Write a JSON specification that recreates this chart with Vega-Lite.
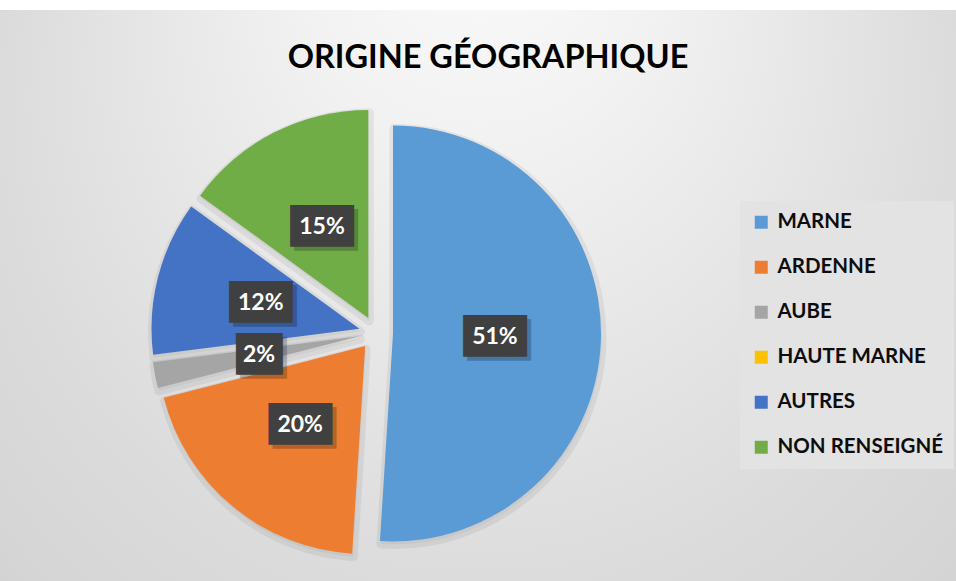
{
  "$schema": "https://vega.github.io/schema/vega-lite/v6.json",
  "width": 1160,
  "height": 646,
  "autosize": {"type": "none"},
  "padding": {"left": -204, "top": 10, "right": 0, "bottom": -75},
  "background": "white",
  "title": {
    "text": "ORIGINE GÉOGRAPHIQUE",
    "font": "Lato",
    "fontSize": 32.5,
    "fontWeight": "bold",
    "color": "#000000",
    "anchor": "middle",
    "frame": "group",
    "dx": 112,
    "offset": -64
  },
  "config": {
    "view": {"stroke": "#c4c4c4", "strokeWidth": 1}
  },
  "data": {
    "values": [
      {"origine": "MARNE", "part": 0.51},
      {"origine": "ARDENNE", "part": 0.20},
      {"origine": "AUBE", "part": 0.02},
      {"origine": "HAUTE MARNE", "part": 0},
      {"origine": "AUTRES", "part": 0.12},
      {"origine": "NON RENSEIGNÉ", "part": 0.15}
    ]
  },
  "transform": [{"stack": "part", "groupby": [], "as": ["debut", "fin"]}],
  "layer": [
    {
      "data": {"values": [{"fond": "arrière-plan"}]},
      "mark": {
        "type": "rect",
        "fill": {
          "gradient": "radial",
          "x1": 0.59, "y1": 0.108, "r1": 0,
          "x2": 0.59, "y2": 0.4, "r2": 0.6,
          "stops": [
            {"offset": 0, "color": "#fcfcfc"},
            {"offset": 0.25, "color": "#f2f2f2"},
            {"offset": 0.54, "color": "#e3e3e3"},
            {"offset": 0.7, "color": "#dbdbdb"},
            {"offset": 0.87, "color": "#d5d5d5"},
            {"offset": 0.93, "color": "#d0d0d0"},
            {"offset": 1, "color": "#c4c4c4"}
          ]
        }
      },
      "encoding": {}
    },
    {
      "transform": [{"filter": "datum.origine === 'MARNE'"}],
      "mark": {"type": "arc", "radius": 208, "xOffset": 18, "yOffset": 3.5, "fill": "#000000", "fillOpacity": 0.04, "stroke": "#000000", "strokeOpacity": 0.06, "strokeWidth": 9, "strokeJoin": "round"},
      "encoding": {
        "theta": {"field": "debut", "type": "quantitative", "scale": {"domain": [0, 1], "range": [0, 6.283185]}},
        "theta2": {"field": "fin"}
      }
    },
    {
      "transform": [{"filter": "datum.origine === 'ARDENNE'"}],
      "mark": {"type": "arc", "radius": 208, "xOffset": -9.8, "yOffset": 16.1, "fill": "#000000", "fillOpacity": 0.04, "stroke": "#000000", "strokeOpacity": 0.06, "strokeWidth": 9, "strokeJoin": "round"},
      "encoding": {
        "theta": {"field": "debut", "type": "quantitative", "scale": {"domain": [0, 1], "range": [0, 6.283185]}},
        "theta2": {"field": "fin"}
      }
    },
    {
      "transform": [{"filter": "datum.origine === 'AUBE'"}],
      "mark": {"type": "arc", "radius": 208, "xOffset": -15.7, "yOffset": 6.2, "fill": "#000000", "fillOpacity": 0.04, "stroke": "#000000", "strokeOpacity": 0.06, "strokeWidth": 9, "strokeJoin": "round"},
      "encoding": {
        "theta": {"field": "debut", "type": "quantitative", "scale": {"domain": [0, 1], "range": [0, 6.283185]}},
        "theta2": {"field": "fin"}
      }
    },
    {
      "transform": [{"filter": "datum.origine === 'AUTRES'"}],
      "mark": {"type": "arc", "radius": 208, "xOffset": -15.5, "yOffset": -1.2, "fill": "#000000", "fillOpacity": 0.04, "stroke": "#000000", "strokeOpacity": 0.06, "strokeWidth": 9, "strokeJoin": "round"},
      "encoding": {
        "theta": {"field": "debut", "type": "quantitative", "scale": {"domain": [0, 1], "range": [0, 6.283185]}},
        "theta2": {"field": "fin"}
      }
    },
    {
      "transform": [{"filter": "datum.origine === 'NON RENSEIGNÉ'"}],
      "mark": {"type": "arc", "radius": 208, "xOffset": -6.7, "yOffset": -12.1, "fill": "#000000", "fillOpacity": 0.04, "stroke": "#000000", "strokeOpacity": 0.06, "strokeWidth": 9, "strokeJoin": "round"},
      "encoding": {
        "theta": {"field": "debut", "type": "quantitative", "scale": {"domain": [0, 1], "range": [0, 6.283185]}},
        "theta2": {"field": "fin"}
      }
    },
    {
      "transform": [{"filter": "datum.origine === 'MARNE'"}],
      "mark": {"type": "arc", "radius": 208, "xOffset": 17, "yOffset": 0.5},
      "encoding": {
        "theta": {"field": "debut", "type": "quantitative", "scale": {"domain": [0, 1], "range": [0, 6.283185]}},
        "theta2": {"field": "fin"},
        "color": {"field": "origine", "type": "nominal",
          "scale": {"domain": ["MARNE", "ARDENNE", "AUBE", "HAUTE MARNE", "AUTRES", "NON RENSEIGNÉ"], "range": ["#5B9BD5", "#ED7D31", "#A5A5A5", "#FFC000", "#4472C4", "#70AD47"]},
          "legend": {"orient": "none", "legendX": 944, "legendY": 191, "title": null, "direction": "vertical", "fillColor": "#e3e3e3", "padding": 11, "symbolType": "square", "symbolSize": 169, "symbolStrokeWidth": 0, "labelFont": "Lato", "labelFontSize": 20.5, "labelFontWeight": "bold", "labelColor": "#0d0d0d", "labelOffset": 6, "rowPadding": 24, "labelLimit": 300}}
      }
    },
    {
      "transform": [{"filter": "datum.origine === 'ARDENNE'"}],
      "mark": {"type": "arc", "radius": 208, "xOffset": -10.8, "yOffset": 13.1},
      "encoding": {
        "theta": {"field": "debut", "type": "quantitative", "scale": {"domain": [0, 1], "range": [0, 6.283185]}},
        "theta2": {"field": "fin"},
        "color": {"field": "origine", "type": "nominal",
          "scale": {"domain": ["MARNE", "ARDENNE", "AUBE", "HAUTE MARNE", "AUTRES", "NON RENSEIGNÉ"], "range": ["#5B9BD5", "#ED7D31", "#A5A5A5", "#FFC000", "#4472C4", "#70AD47"]},
          "legend": {"orient": "none", "legendX": 944, "legendY": 191, "title": null, "direction": "vertical", "fillColor": "#e3e3e3", "padding": 11, "symbolType": "square", "symbolSize": 169, "symbolStrokeWidth": 0, "labelFont": "Lato", "labelFontSize": 20.5, "labelFontWeight": "bold", "labelColor": "#0d0d0d", "labelOffset": 6, "rowPadding": 24, "labelLimit": 300}}
      }
    },
    {
      "transform": [{"filter": "datum.origine === 'AUBE'"}],
      "mark": {"type": "arc", "radius": 208, "xOffset": -16.7, "yOffset": 3.2},
      "encoding": {
        "theta": {"field": "debut", "type": "quantitative", "scale": {"domain": [0, 1], "range": [0, 6.283185]}},
        "theta2": {"field": "fin"},
        "color": {"field": "origine", "type": "nominal",
          "scale": {"domain": ["MARNE", "ARDENNE", "AUBE", "HAUTE MARNE", "AUTRES", "NON RENSEIGNÉ"], "range": ["#5B9BD5", "#ED7D31", "#A5A5A5", "#FFC000", "#4472C4", "#70AD47"]},
          "legend": {"orient": "none", "legendX": 944, "legendY": 191, "title": null, "direction": "vertical", "fillColor": "#e3e3e3", "padding": 11, "symbolType": "square", "symbolSize": 169, "symbolStrokeWidth": 0, "labelFont": "Lato", "labelFontSize": 20.5, "labelFontWeight": "bold", "labelColor": "#0d0d0d", "labelOffset": 6, "rowPadding": 24, "labelLimit": 300}}
      }
    },
    {
      "transform": [{"filter": "datum.origine === 'AUTRES'"}],
      "mark": {"type": "arc", "radius": 208, "xOffset": -16.5, "yOffset": -4.2},
      "encoding": {
        "theta": {"field": "debut", "type": "quantitative", "scale": {"domain": [0, 1], "range": [0, 6.283185]}},
        "theta2": {"field": "fin"},
        "color": {"field": "origine", "type": "nominal",
          "scale": {"domain": ["MARNE", "ARDENNE", "AUBE", "HAUTE MARNE", "AUTRES", "NON RENSEIGNÉ"], "range": ["#5B9BD5", "#ED7D31", "#A5A5A5", "#FFC000", "#4472C4", "#70AD47"]},
          "legend": {"orient": "none", "legendX": 944, "legendY": 191, "title": null, "direction": "vertical", "fillColor": "#e3e3e3", "padding": 11, "symbolType": "square", "symbolSize": 169, "symbolStrokeWidth": 0, "labelFont": "Lato", "labelFontSize": 20.5, "labelFontWeight": "bold", "labelColor": "#0d0d0d", "labelOffset": 6, "rowPadding": 24, "labelLimit": 300}}
      }
    },
    {
      "transform": [{"filter": "datum.origine === 'NON RENSEIGNÉ'"}],
      "mark": {"type": "arc", "radius": 208, "xOffset": -7.7, "yOffset": -15.1},
      "encoding": {
        "theta": {"field": "debut", "type": "quantitative", "scale": {"domain": [0, 1], "range": [0, 6.283185]}},
        "theta2": {"field": "fin"},
        "color": {"field": "origine", "type": "nominal",
          "scale": {"domain": ["MARNE", "ARDENNE", "AUBE", "HAUTE MARNE", "AUTRES", "NON RENSEIGNÉ"], "range": ["#5B9BD5", "#ED7D31", "#A5A5A5", "#FFC000", "#4472C4", "#70AD47"]},
          "legend": {"orient": "none", "legendX": 944, "legendY": 191, "title": null, "direction": "vertical", "fillColor": "#e3e3e3", "padding": 11, "symbolType": "square", "symbolSize": 169, "symbolStrokeWidth": 0, "labelFont": "Lato", "labelFontSize": 20.5, "labelFontWeight": "bold", "labelColor": "#0d0d0d", "labelOffset": 6, "rowPadding": 24, "labelLimit": 300}}
      }
    },
    {
      "transform": [{"filter": "datum.part > 0"}],
      "mark": {"type": "text", "radius": 119, "font": "DejaVu Sans Mono", "fontSize": 35, "color": "#000000", "opacity": 0.22, "dx": 4, "dy": 4, "align": "center", "baseline": "middle"},
      "encoding": {
        "theta": {"field": "part", "type": "quantitative", "stack": true, "scale": {"domain": [0, 1], "range": [0, 6.283185]}},
        "order": {"field": "debut", "type": "quantitative"},
        "text": {"condition": {"test": "datum.part >= 0.1", "value": "███"}, "value": "▕██▏"}
      }
    },
    {
      "transform": [{"filter": "datum.part > 0"}],
      "mark": {"type": "text", "radius": 119, "font": "DejaVu Sans Mono", "fontSize": 35, "color": "#404040", "align": "center", "baseline": "middle"},
      "encoding": {
        "theta": {"field": "part", "type": "quantitative", "stack": true, "scale": {"domain": [0, 1], "range": [0, 6.283185]}},
        "order": {"field": "debut", "type": "quantitative"},
        "text": {"condition": {"test": "datum.part >= 0.1", "value": "███"}, "value": "▕██▏"}
      }
    },
    {
      "transform": [{"filter": "datum.part > 0"}],
      "mark": {"type": "text", "radius": 119, "font": "Lato", "fontSize": 23, "fontWeight": "bold", "color": "#ffffff", "align": "center", "baseline": "middle"},
      "encoding": {
        "theta": {"field": "part", "type": "quantitative", "stack": true, "scale": {"domain": [0, 1], "range": [0, 6.283185]}},
        "order": {"field": "debut", "type": "quantitative"},
        "text": {"field": "part", "type": "quantitative", "format": ".0%"}
      }
    }
  ]
}
